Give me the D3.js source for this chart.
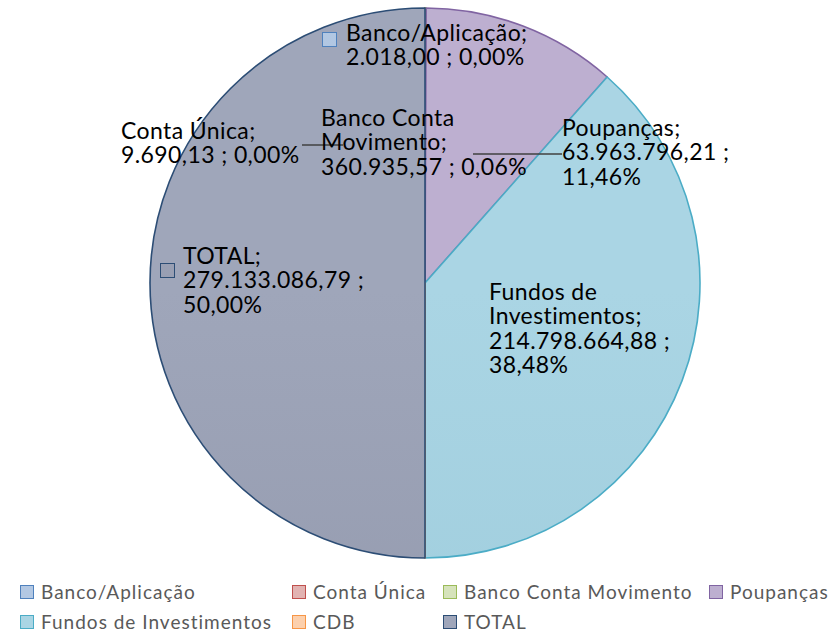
<!DOCTYPE html>
<html>
<head>
<meta charset="utf-8">
<script src="https://cdn.jsdelivr.net/npm/d3@7"></script>
<style>
  body { margin: 0; background: #fff; }
  svg { font-family: Lato, "Open Sans", sans-serif; }
</style>
</head>
<body>
<div id="chart"></div>
<script>
// data
var categories = ["Banco/Aplicação", "Conta Única", "Banco Conta Movimento", "Poupanças", "Fundos de Investimentos", "CDB", "TOTAL"];
var values = [2018.00, 9690.13, 360935.57, 63963796.21, 214798664.88, 0, 279133086.79];
var percents = ["0,00%", "0,00%", "0,06%", "11,46%", "38,48%", "0,00%", "50,00%"];
var valueLabels = ["2.018,00", "9.690,13", "360.935,57", "63.963.796,21", "214.798.664,88", "0,00", "279.133.086,79"];

var width = 831;
var height = 635;
var cx = 425, cy = 283, radius = 275;

var strokes = ["#4F81BD", "#C0504D", "#9BBB59", "#8064A2", "#4BACC6", "#F79646", "#2C4D75"];
var fillsTop = ["#b3c8e3", "#e2b3b2", "#d6e3bb", "#bdafd0", "#aad5e4", "#fcd0ad", "#9fa6ba"];
var fillsBot = ["#9db6d9", "#d69b9a", "#c4d5a0", "#b09fc5", "#9ccbdb", "#f9c196", "#9197ab"];

// label layout: position of first line, wrapped lines, optional key box / leader line
var labelLayout = [
    { x: 346, y: 33, lines: ["Banco/Aplicação;", "2.018,00 ; 0,00%"], key: [322, 32] },
    { x: 121, y: 131, lines: ["Conta Única;", "9.690,13 ; 0,00%"], leader: [302, 343, 145] },
    { x: 321, y: 118, lines: ["Banco Conta", "Movimento;", "360.935,57 ; 0,06%"] },
    { x: 562, y: 128, lines: ["Poupanças;", "63.963.796,21 ;", "11,46%"], leader: [473, 562, 154] },
    { x: 489, y: 292, lines: ["Fundos de", "Investimentos;", "214.798.664,88 ;", "38,48%"] },
    null,
    { x: 183, y: 256, lines: ["TOTAL;", "279.133.086,79 ;", "50,00%"], key: [160, 263] }
];

var svg = d3.select("#chart").append("svg")
    .attr("width", width)
    .attr("height", height);

var defs = svg.append("defs");
categories.forEach(function (c, i) {
    var g = defs.append("linearGradient")
        .attr("id", "grad" + i)
        .attr("gradientUnits", "userSpaceOnUse")
        .attr("x1", 0).attr("y1", cy - radius)
        .attr("x2", 0).attr("y2", cy + radius);
    g.append("stop").attr("offset", "0%").attr("stop-color", fillsTop[i]);
    g.append("stop").attr("offset", "100%").attr("stop-color", fillsBot[i]);
});

var pie = d3.pie().sort(null).value(function (d) { return d; });
var arc = d3.arc().innerRadius(0).outerRadius(radius);
var arcs = pie(values);

var g = svg.append("g").attr("transform", "translate(" + cx + "," + cy + ")");

g.selectAll("path.slice")
    .data(arcs)
    .enter().append("path")
    .attr("class", "slice")
    .attr("d", arc)
    .attr("fill", function (d, i) { return "url(#grad" + i + ")"; })
    .attr("stroke", function (d, i) { return strokes[i]; })
    .attr("stroke-width", 1.6)
    .attr("stroke-linejoin", "round");

// leader lines
labelLayout.forEach(function (l) {
    if (l && l.leader) {
        svg.append("line")
            .attr("x1", l.leader[0]).attr("x2", l.leader[1])
            .attr("y1", l.leader[2]).attr("y2", l.leader[2])
            .attr("stroke", "#404040")
            .attr("stroke-width", 1.3);
    }
});

// data labels
labelLayout.forEach(function (l, i) {
    if (!l) return;
    if (l.key) {
        svg.append("rect")
            .attr("x", l.key[0] + 0.5).attr("y", l.key[1] + 0.5)
            .attr("width", 14).attr("height", 14)
            .attr("fill", "url(#grad" + i + ")")
            .attr("stroke", strokes[i])
            .attr("stroke-width", 1);
    }
    var t = svg.append("text")
        .attr("x", l.x)
        .attr("y", l.y)
        .attr("font-size", "23px")
        .attr("letter-spacing", "0.4px")
        .attr("fill", "#000");
    l.lines.forEach(function (s, k) {
        t.append("tspan")
            .attr("x", l.x)
            .attr("dy", k === 0 ? "0.33em" : "24.5px")
            .text(s);
    });
});

// legend
var legendX = [20, 292, 443, 709];
var legendRowY = [592, 622];
var legend = svg.selectAll("g.legend")
    .data(categories)
    .enter().append("g")
    .attr("class", "legend")
    .attr("transform", function (d, i) {
        return "translate(" + legendX[i % 4] + "," + legendRowY[Math.floor(i / 4)] + ")";
    });

legend.append("rect")
    .attr("x", 0.5).attr("y", -6.5)
    .attr("width", 13).attr("height", 13)
    .attr("fill", function (d, i) { return fillsTop[i]; })
    .attr("stroke", function (d, i) { return strokes[i]; })
    .attr("stroke-width", 1);

legend.append("text")
    .attr("x", 21)
    .attr("y", 0)
    .attr("dy", "0.35em")
    .attr("font-size", "19px")
    .attr("letter-spacing", "1px")
    .attr("fill", "#595959")
    .text(function (d) { return d; });
</script>
</body>
</html>
